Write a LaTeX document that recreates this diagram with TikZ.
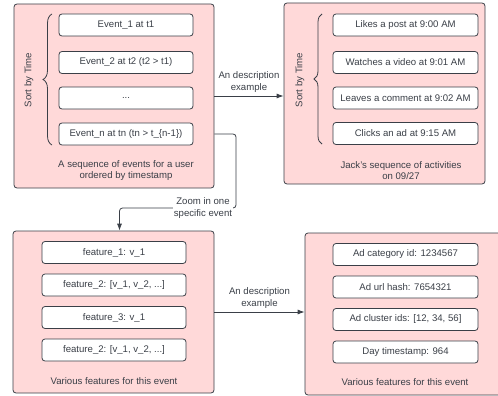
\documentclass[tikz,border=0pt]{standalone}
\usepackage{fontspec}
\setmainfont{Liberation Sans}
\usetikzlibrary{arrows.meta,decorations.pathreplacing}
\definecolor{panelpink}{HTML}{FFD9D9}
\definecolor{inkgray}{HTML}{3A3F47}

\begin{document}
\begin{tikzpicture}
  [x=1pt, y=-1pt, font=\fontsize{9.6}{11.5}\selectfont, text=inkgray,
   panel/.style={draw=inkgray, fill=panelpink, rounded corners=3pt, line width=.8pt, inner sep=0pt},
   item/.style={draw=inkgray, fill=white, rounded corners=3pt, line width=.8pt, inner sep=0pt, minimum height=22pt},
   link/.style={draw=inkgray, line width=.8pt, rounded corners=3pt, -{Latex[length=7pt,width=5pt]}},
   timebrace/.style={draw=inkgray, line width=.8pt, decorate}]
  \useasboundingbox (0,0) rectangle (498,396);

  % the four panels
  \node[panel, minimum width=200pt, minimum height=184pt] (seq) at (114,96) {};
  \node[panel, minimum width=201pt, minimum height=181pt] (jack) at (384.5,93.5) {};
  \node[panel, minimum width=201pt, minimum height=162pt] (feat) at (113.5,312) {};
  \node[panel, minimum width=200pt, minimum height=162pt] (ad) at (405,314) {};

  % events and activities
  \foreach \name/\y/\txt in {e1/25/{Event\_1 at t1}, e2/62.5/{Event\_2 at t2 (t2 > t1)},
                             e3/98/{...}, e4/134/{Event\_n at tn (tn > t\_\{n-1\})}}
    \node[item, minimum width=134pt] (\name) at (126,\y) {\txt};
  \foreach \name/\y/\txt in {a1/25/{Likes a post at 9:00 AM}, a2/62.5/{Watches a video at 9:01 AM},
                             a3/98/{Leaves a comment at 9:02 AM}, a4/133.5/{Clicks an ad at 9:15 AM}}
    \node[item, minimum width=145pt] (\name) at (405.5,\y) {\txt};

  % features
  \foreach \name/\y/\txt in {f1/252.5/{feature\_1: v\_1}, f2/285/{feature\_2: [v\_1, v\_2, ...]},
                             f3/317.5/{feature\_3: v\_1}, f4/350/{feature\_2: [v\_1, v\_2, ...]}}
    \node[item, minimum width=144pt] (\name) at (114,\y) {\txt};
  \foreach \name/\y/\txt in {d1/254.5/{Ad category id: 1234567}, d2/287/{Ad url hash: 7654321},
                             d3/319.5/{Ad cluster ids: [12, 34, 56]}, d4/352/{Day timestamp: 964}}
    \node[item, minimum width=145pt] (\name) at (405.5,\y) {\txt};

  % braces and captions
  \draw[timebrace, decoration={brace, amplitude=9pt}] (52,145) -- (52,14);
  \draw[timebrace, decoration={brace, amplitude=8pt}] (322,144) -- (322,14);
  \node[rotate=90] (sorta) at (29,80) {Sort by Time};
  \node[rotate=90] (sortb) at (300,80) {Sort by Time};
  \node[align=center] (capa) at (126,170.5) {A sequence of events for a user\\ordered by timestamp};
  \node[align=center] (capb) at (401,170.5) {Jack's sequence of activities\\on 09/27};
  \node (capc) at (114,381) {Various features for this event};
  \node (capd) at (405,382) {Various features for this event};

  % connectors
  \draw[link] (seq.east) -- node[above, align=center] {An description\\example} (seq.east -| jack.west);
  \draw[link] (feat.east) -- node[above, align=center] {An description\\example} (feat.east -| ad.west);
  \coordinate (bend) at (236,208);
  \draw[link] (seq.east |- e4) -| (bend) -| ([xshift=6pt]feat.north);
  \node[fill=white, align=center, inner sep=1pt] (zoomlbl) at (203,208) {Zoom in one\\specific event};
\end{tikzpicture}
\end{document}
